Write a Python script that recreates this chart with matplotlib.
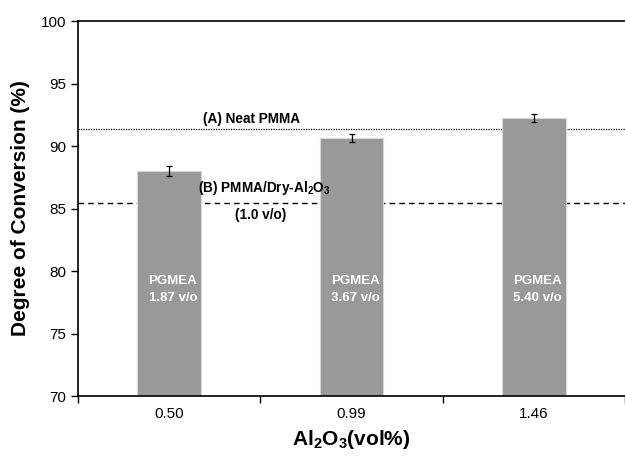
import matplotlib
matplotlib.use("Agg")
import matplotlib.pyplot as plt
from matplotlib.ticker import FixedLocator, NullFormatter

plt.rcParams['font.family'] = ['Liberation Sans', 'DejaVu Sans']
plt.rcParams['mathtext.fontset'] = 'custom'
plt.rcParams['mathtext.rm'] = 'Liberation Sans:bold'
plt.rcParams['mathtext.bf'] = 'Liberation Sans:bold'
plt.rcParams['mathtext.default'] = 'bf'

categories = ["0.50", "0.99", "1.46"]
conversion = [88.0, 90.65, 92.25]
errors = [0.38, 0.33, 0.35]
pgmea_labels = ["PGMEA\n1.87 v/o", "PGMEA\n3.67 v/o", "PGMEA\n5.40 v/o"]
neat_pmma = 91.35
dry_al2o3 = 85.45

fig = plt.figure(figsize=(6.25, 4.61), dpi=100)
ax = fig.add_axes([78/625, 1-396/461, 547/625, 375/461])

x = list(range(len(categories)))
ax.bar(x, conversion, width=0.35, color='#999999', edgecolor='#d8d8d8', linewidth=0.8, zorder=2)
ax.errorbar(x, conversion, yerr=errors, fmt='none', ecolor='black', elinewidth=0.9, capsize=2.5, capthick=0.9, zorder=3)

ax.axhline(neat_pmma, color='black', linestyle=(0, (1, 1)), linewidth=0.9, zorder=1)
ax.axhline(dry_al2o3, color='black', linestyle=(0, (4, 3)), linewidth=1.0, zorder=1)

ax.text(0.45, neat_pmma + 0.85, "(A) Neat PMMA", ha='center', va='center', fontsize=9.8, fontweight='bold')
ax.text(0.52, dry_al2o3 + 0.45, "(B) PMMA/Dry-Al$_2$O$_3$", ha='center', va='bottom', fontsize=9.8, fontweight='bold')
ax.text(0.5, dry_al2o3 - 0.95, "(1.0 v/o)", ha='center', va='center', fontsize=9.8, fontweight='bold')

for xi, lab in zip(x, pgmea_labels):
    ax.text(xi + 0.02, 78.55, lab, ha='center', va='center', fontsize=9.5, fontweight='bold', color='white', linespacing=1.55)

ax.set_xlim(-0.5, 2.5)
ax.set_ylim(70, 100)
ax.set_yticks([70, 75, 80, 85, 90, 95, 100])
ax.set_xticks(x)
ax.set_xticklabels(categories)
ax.tick_params(axis='x', which='major', length=0, pad=8, labelsize=11)
ax.xaxis.set_minor_locator(FixedLocator([-0.5, 0.5, 1.5, 2.5]))
ax.xaxis.set_minor_formatter(NullFormatter())
ax.tick_params(axis='x', which='minor', length=5, width=1, direction='out')
ax.tick_params(axis='y', length=5, width=1, direction='out', labelsize=11)

for s in ['left', 'bottom', 'top']:
    ax.spines[s].set_linewidth(1.2)
ax.spines['right'].set_visible(False)

ax.set_ylabel("Degree of Conversion (%)", fontsize=15, fontweight='bold', labelpad=8)
ax.set_xlabel("Al$_2$O$_3$(vol%)", fontsize=15, fontweight='bold', labelpad=5)

fig.savefig("out.png", dpi=100)
